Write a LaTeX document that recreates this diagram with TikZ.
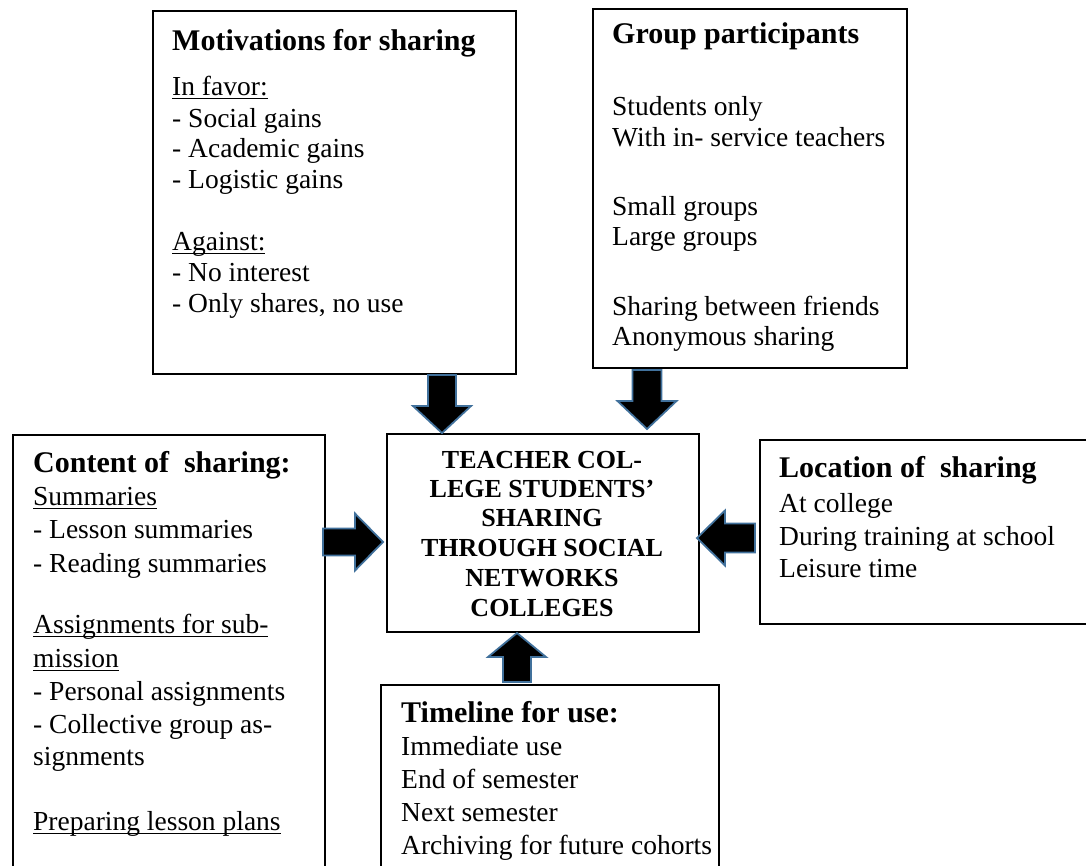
\documentclass[tikz,border=0pt]{standalone}
\usepackage{fontspec}
\setmainfont{Liberation Serif}
\definecolor{arrowedge}{HTML}{41719C}
\newcommand\myul[1]{\setbox0\hbox{#1}\rlap{\rule[-4pt]{\wd0}{1.2pt}}\box0}
\newcommand\barrow[6]{%
  \draw[blockarrow, shift={(#1)}, rotate=#2] (0,0) -- (-#3,#5) -- (-#3,#6) -- (-#4,#6) -- (-#4,-#6) -- (-#3,-#6) -- (-#3,-#5) -- cycle;}
\begin{document}
\begin{tikzpicture}[x=1pt,y=-1pt,
  frame/.style={draw=black, line width=1.6pt, anchor=north west, inner sep=0pt},
  body/.style={anchor=base west, inner sep=0pt, font=\fontsize{27.5}{30}\selectfont},
  head/.style={anchor=base west, inner sep=0pt, font=\fontsize{30}{32}\selectfont\bfseries},
  ctext/.style={anchor=base, inner sep=0pt, font=\fontsize{26}{28}\selectfont\bfseries},
  blockarrow/.style={fill=black, draw=arrowedge, line width=1.8pt, line join=miter}]
\useasboundingbox (0,0) rectangle (1086,865);
\clip (0,0) rectangle (1086,865);

% boxes
\node[frame, minimum width=363pt, minimum height=363pt] (mot) at (152,10) {};
\node[frame, minimum width=314pt, minimum height=359pt] (grp) at (592,8) {};
\node[frame, minimum width=312pt, minimum height=198pt] (ctr) at (386,433) {};
\node[frame, minimum width=312pt, minimum height=500pt] (cnt) at (12,434) {};
\node[frame, minimum width=400pt, minimum height=184pt] (loc) at (759,439) {};
\node[frame, minimum width=338pt, minimum height=300pt] (tml) at (380,684) {};

% motivations
\node[head] (m0) at (172,50) {Motivations for sharing};
\node[body] (m1) at (172,95) {\myul{In favor:}};
\node[body] (m2) at (172,127) {- Social gains};
\node[body] (m3) at (172,157) {- Academic gains};
\node[body] (m4) at (172,188) {- Logistic gains};
\node[body] (m5) at (172,250) {\myul{Against:}};
\node[body] (m6) at (172,281) {- No interest};
\node[body] (m7) at (172,312) {- Only shares, no use};

% group participants
\node[head] (g0) at (612,43) {Group participants};
\node[body] (g1) at (612,115) {Students only};
\node[body] (g2) at (612,146) {With in- service teachers};
\node[body] (g3) at (612,215) {Small groups};
\node[body] (g4) at (612,245) {Large groups};
\node[body] (g5) at (612,315) {Sharing between friends};
\node[body] (g6) at (612,345) {Anonymous sharing};

% centre
\node[ctext] (c1) at (542,468) {TEACHER COL-};
\node[ctext] (c2) at (542,497) {LEGE STUDENTS’};
\node[ctext] (c3) at (542,526) {SHARING};
\node[ctext] (c4) at (542,556) {THROUGH SOCIAL};
\node[ctext] (c5) at (542,586) {NETWORKS};
\node[ctext] (c6) at (542,616) {COLLEGES};

% content
\node[head] (k0) at (33,472) {Content of\ \ sharing:};
\node[body] (k1) at (33,505) {\myul{Summaries}};
\node[body] (k2) at (33,538) {- Lesson summaries};
\node[body] (k3) at (33,572) {- Reading summaries};
\node[body] (k4) at (33,633) {\myul{Assignments for sub-}};
\node[body] (k5) at (33,667) {\myul{mission}};
\node[body] (k6) at (33,700) {- Personal assignments};
\node[body] (k7) at (33,733) {- Collective group as-};
\node[body] (k8) at (33,765) {signments};
\node[body] (k9) at (33,830) {\myul{Preparing lesson plans}};

% location
\node[head] (l0) at (779,477) {Location of\ \ sharing};
\node[body] (l1) at (779,512) {At college};
\node[body] (l2) at (779,545) {During training at school};
\node[body] (l3) at (779,577) {Leisure time};

% timeline
\node[head] (t0) at (401,722) {Timeline for use:};
\node[body] (t1) at (401,755) {Immediate use};
\node[body] (t2) at (401,788) {End of semester};
\node[body] (t3) at (401,821) {Next semester};
\node[body] (t4) at (401,854) {Archiving for future cohorts};

% block arrows
\coordinate (tipTL) at (442,433);
\coordinate (tipTR) at (647,429);
\coordinate (tipL) at (383,542);
\coordinate (tipR) at (697,538);
\coordinate (tipB) at (517,633);
\barrow{tipTL}{-90}{27}{58}{29}{14}
\barrow{tipTR}{-90}{28}{59}{29.5}{14.5}
\barrow{tipL}{0}{28}{60}{28.5}{13.5}
\barrow{tipR}{180}{28}{58}{27.5}{14.5}
\barrow{tipB}{90}{24}{49}{29}{14}
\end{tikzpicture}
\end{document}
